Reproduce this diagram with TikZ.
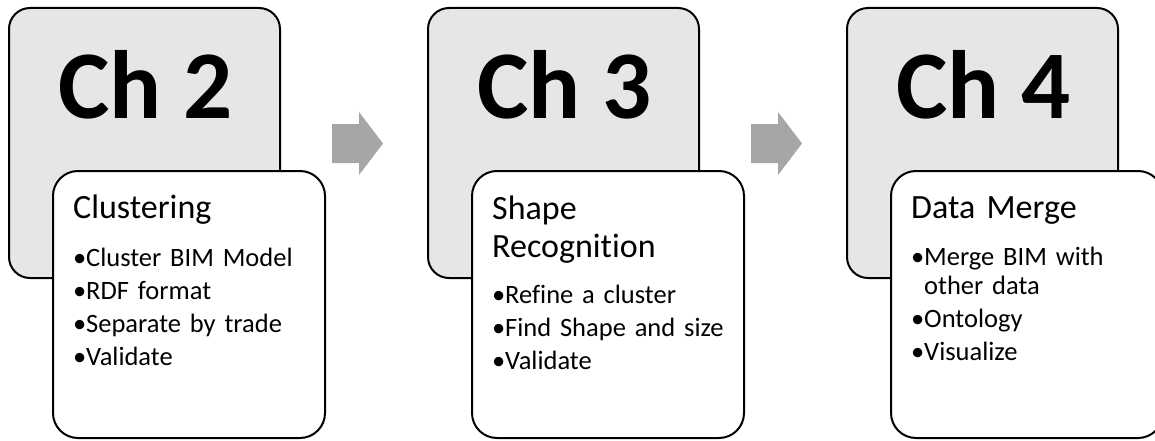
\documentclass[tikz,border=0pt]{standalone}
\usepackage{fontspec}
\setmainfont{Carlito}[Ligatures=NoCommon]
\usetikzlibrary{positioning}
\definecolor{cardgray}{RGB}{230,230,230}
\definecolor{arrowgray}{RGB}{166,166,166}
\newcommand{\bul}{\makebox[13pt][l]{•}}
\begin{document}
\begin{tikzpicture}[x=1pt,y=-1pt,
        chap/.style={draw,line width=2pt,fill=cardgray,rounded corners=21pt,minimum width=271pt,minimum height=270pt,inner sep=0pt},
        topic/.style={draw,line width=2pt,fill=white,rounded corners=25pt,minimum width=272pt,minimum height=267pt,inner sep=0pt},
        chnum/.style={anchor=base,inner sep=0pt,font=\fontsize{97}{97}\selectfont\bfseries},
        head/.style={anchor=base west,inner sep=0pt,text width=240pt,align=left,font=\fontsize{34}{38}\selectfont},
        items/.style={anchor=base west,inner sep=0pt,text width=240pt,align=left,font=\fontsize{26.5}{29.5}\selectfont}]
        \useasboundingbox (0,0) rectangle (1155,441);
        \clip (0,0) rectangle (1155,441);
        % chapter 2
        \node[chap] (c2) at (144.5,143) {};
        \node[chnum] (n2) at (145.5,118) {Ch 2};
        \node[topic] (w2) at (189,304.5) {};
        \node[head] (h2) at (73,218) {Clustering};
        \node[items] (l2) at (73,266) {\bul Cluster BIM Model\\[3.5pt]\bul RDF format\\[3.5pt]\bul Separate by trade\\[3.5pt]\bul Validate};
        % chapter 3
        \node[chap] (c3) at (563.5,143) {};
        \node[chnum] (n3) at (564.5,118) {Ch 3};
        \node[topic] (w3) at (608,304.5) {};
        \node[head] (h3) at (492,219) {Shape\\Recognition};
        \node[items] (l3) at (492,303) {\bul Refine a cluster\\[3.5pt]\bul Find Shape and size\\[3.5pt]\bul Validate};
        % chapter 4
        \node[chap] (c4) at (982.5,143) {};
        \node[chnum] (n4) at (983.5,118) {Ch 4};
        \node[topic] (w4) at (1027,304.5) {};
        \node[head] (h4) at (911,218) {Data Merge};
        \node[items] (l4) at (911,265) {\bul Merge BIM with\\\hspace*{13pt}other data\\[3.5pt]\bul Ontology\\[3.5pt]\bul Visualize};
        % arrows between the cards
        \fill[arrowgray] (332,124) -- (359,124) -- (359,112) -- (383,143.5) -- (359,175) -- (359,163) -- (332,163) -- cycle;
        \fill[arrowgray] (751,124) -- (778,124) -- (778,112) -- (802,143.5) -- (778,175) -- (778,163) -- (751,163) -- cycle;
    \end{tikzpicture}
\end{document}
